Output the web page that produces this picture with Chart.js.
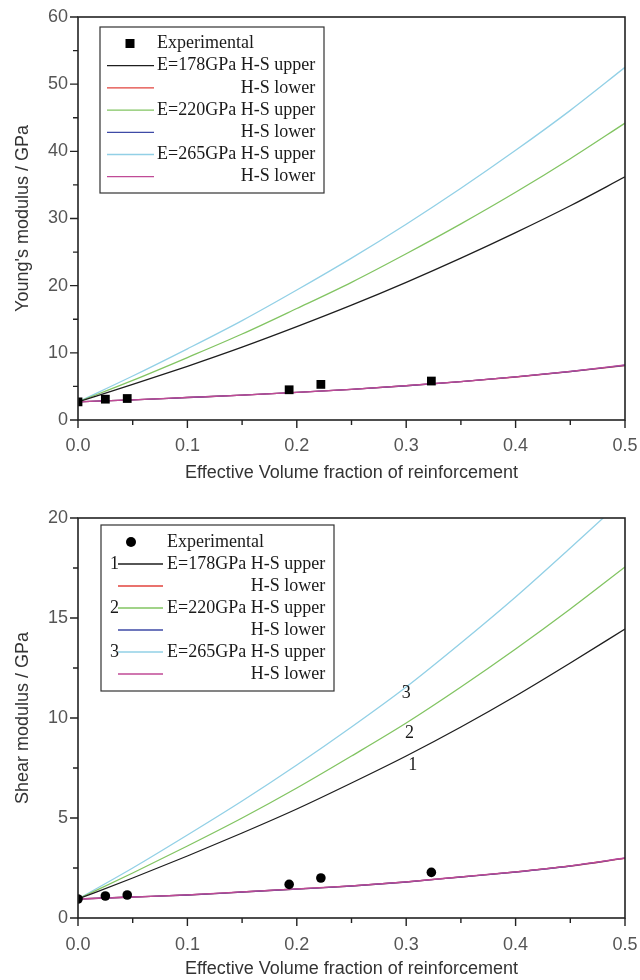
<!DOCTYPE html>
<html>
<head>
<meta charset="utf-8">
<script src="https://cdn.jsdelivr.net/npm/chart.js@4"></script>
<style>
    html, body { margin: 0; padding: 0; background: #fff; }
    #wrap { position: relative; width: 640px; height: 980px; }
    .panel { position: absolute; left: 0; width: 640px; height: 490px; }
</style>
</head>
<body>
<div id="wrap">
    <div class="panel" style="top:0"><canvas id="young" width="640" height="490"></canvas></div>
    <div class="panel" style="top:490px"><canvas id="shear" width="640" height="490"></canvas></div>
</div>
<script>
// ============================================
// Hashin-Shtrikman bounds vs. measured moduli
// ============================================

// effective volume fraction of reinforcement (bound curves)
var volFrac = [0, 0.05, 0.10, 0.15, 0.20, 0.25, 0.30, 0.35, 0.40, 0.45, 0.50];

// measured points
var expFrac = [0, 0.025, 0.045, 0.193, 0.222, 0.323];
var youngExp = [2.7, 3.1, 3.2, 4.5, 5.3, 5.8];
var shearExp = [0.95, 1.1, 1.15, 1.68, 2.0, 2.28];

// Young's modulus, GPa
var youngUpper178 = [2.7, 5.3, 8.0, 10.85, 13.9, 17.1, 20.5, 24.1, 27.9, 31.9, 36.2];
var youngUpper220 = [2.7, 5.9, 9.3, 12.8, 16.6, 20.5, 24.75, 29.2, 33.9, 38.9, 44.2];
var youngUpper265 = [2.7, 6.55, 10.6, 14.8, 19.35, 24.1, 29.15, 34.5, 40.15, 46.1, 52.5];
var youngLower178 = [2.7, 3.0, 3.35, 3.7, 4.1, 4.55, 5.1, 5.7, 6.4, 7.2, 8.1];
var youngLower220 = [2.7, 3.0, 3.35, 3.7, 4.1, 4.56, 5.1, 5.7, 6.42, 7.22, 8.15];
var youngLower265 = [2.7, 3.0, 3.36, 3.71, 4.11, 4.57, 5.12, 5.72, 6.43, 7.24, 8.2];

// shear modulus, GPa
var shearUpper178 = [0.95, 2.0, 3.1, 4.25, 5.45, 6.75, 8.1, 9.55, 11.1, 12.75, 14.45];
var shearUpper220 = [0.95, 2.25, 3.6, 5.0, 6.5, 8.1, 9.75, 11.55, 13.45, 15.45, 17.55];
var shearUpper265 = [0.95, 2.5, 4.15, 5.85, 7.65, 9.55, 11.55, 13.75, 16.05, 18.5, 21.0];
var shearLower178 = [0.95, 1.05, 1.15, 1.3, 1.45, 1.6, 1.8, 2.05, 2.3, 2.6, 2.98];
var shearLower220 = [0.95, 1.05, 1.15, 1.3, 1.45, 1.6, 1.8, 2.05, 2.3, 2.6, 2.99];
var shearLower265 = [0.95, 1.05, 1.16, 1.31, 1.46, 1.61, 1.81, 2.06, 2.31, 2.61, 3.0];

// axis ticks
var xTicks = [0, 0.1, 0.2, 0.3, 0.4, 0.5];
var youngTicks = [0, 10, 20, 30, 40, 50, 60];
var shearTicks = [0, 5, 10, 15, 20];

// curve tags on the shear panel
var tagText = ['1', '2', '3'];
var tagFrac = [0.306, 0.303, 0.300];
var tagShear = [7.65, 9.25, 11.25];

var COLORS = {
    c178: '#1e1e1e',
    l178: '#e2433c',
    c220: '#82c462',
    l220: '#3e4aa6',
    c265: '#92d0e6',
    l265: '#c04a96'
};

var SANS = '"Liberation Sans", Arial, sans-serif';
var SERIF = '"Liberation Serif", "Times New Roman", serif';

function pairs(xs, ys) {
    return xs.map(function (x, i) { return { x: x, y: ys[i] }; });
}

function curve(ys, color, order) {
    return {
        data: pairs(volFrac, ys),
        showLine: true,
        borderColor: color,
        borderWidth: 1.3,
        pointRadius: 0,
        cubicInterpolationMode: 'monotone',
        order: order
    };
}

// --------------------------------------------------
//  Frame, minor/major ticks, legend box, curve tags
// --------------------------------------------------
var decor = {
    id: 'decor',
    afterDraw: function (chart, args, o) {
        var ctx = chart.ctx;
        var a = chart.chartArea;
        var sx = chart.scales.x, sy = chart.scales.y;
        ctx.save();

        // frame
        ctx.strokeStyle = '#222';
        ctx.lineWidth = 1.6;
        ctx.strokeRect(a.left, a.top, a.right - a.left, a.bottom - a.top);

        // outward ticks on bottom and left
        ctx.lineWidth = 1.4;
        ctx.beginPath();
        function xTick(v, len) {
            var px = sx.getPixelForValue(v);
            ctx.moveTo(px, a.bottom);
            ctx.lineTo(px, a.bottom + len);
        }
        function yTick(v, len) {
            var py = sy.getPixelForValue(v);
            ctx.moveTo(a.left, py);
            ctx.lineTo(a.left - len, py);
        }
        xTicks.forEach(function (v, i) {
            xTick(v, 8);
            if (i < xTicks.length - 1) xTick((v + xTicks[i + 1]) / 2, 5);
        });
        o.yTicks.forEach(function (v, i) {
            yTick(v, 8);
            if (i < o.yTicks.length - 1) yTick((v + o.yTicks[i + 1]) / 2, 5);
        });
        ctx.stroke();

        // legend
        var L = o.legend;
        ctx.fillStyle = '#fff';
        ctx.fillRect(L.left, L.top, L.right - L.left, L.bottom - L.top);
        ctx.strokeStyle = '#333';
        ctx.lineWidth = 1.2;
        ctx.strokeRect(L.left, L.top, L.right - L.left, L.bottom - L.top);

        ctx.font = '18px ' + SERIF;
        ctx.textBaseline = 'middle';
        ctx.fillStyle = '#1a1a1a';
        var upperW = ctx.measureText(L.rows[1].text).width;

        L.rows.forEach(function (r, i) {
            var y = L.firstRow + i * L.step;
            if (r.marker) {
                ctx.fillStyle = '#000';
                ctx.beginPath();
                if (r.marker === 'rect') {
                    ctx.rect(L.markerX - 4.5, y - 4.5, 9, 9);
                } else {
                    ctx.arc(L.markerX, y, 5, 0, Math.PI * 2);
                }
                ctx.fill();
                ctx.fillStyle = '#1a1a1a';
                ctx.textAlign = 'left';
                ctx.fillText(r.text, L.textX, y);
                return;
            }
            ctx.strokeStyle = r.color;
            ctx.lineWidth = 1.3;
            ctx.beginPath();
            ctx.moveTo(L.lineX0, y);
            ctx.lineTo(L.lineX1, y);
            ctx.stroke();
            ctx.fillStyle = '#1a1a1a';
            if (r.num) {
                ctx.textAlign = 'right';
                ctx.fillText(r.num, L.lineX0 + 1, y);
            }
            if (r.right) {
                ctx.textAlign = 'right';
                ctx.fillText(r.text, L.textX + upperW, y);
            } else {
                ctx.textAlign = 'left';
                ctx.fillText(r.text, L.textX, y);
            }
        });

        // tags next to the upper-bound curves
        if (o.tags) {
            ctx.textAlign = 'center';
            ctx.fillStyle = '#1a1a1a';
            o.tags.text.forEach(function (t, i) {
                ctx.fillText(t, sx.getPixelForValue(o.tags.x[i]), sy.getPixelForValue(o.tags.y[i]));
            });
        }
        ctx.restore();
    }
};

function makeChart(id, cfg) {
    var ctx = document.getElementById(id).getContext('2d');
    return new Chart(ctx, {
        type: 'scatter',
        data: { datasets: cfg.datasets },
        options: {
            responsive: false,
            animation: false,
            layout: { padding: { top: cfg.padTop, right: 15, left: 0, bottom: 0 } },
            plugins: {
                legend: { display: false },
                tooltip: { enabled: false },
                decor: { yTicks: cfg.yTicks, legend: cfg.legend, tags: cfg.tags }
            },
            scales: {
                x: {
                    type: 'linear',
                    min: 0, max: 0.5,
                    afterFit: function (s) {
                        s.height = cfg.axisH;
                        s.paddingLeft = 0;
                        s.paddingRight = 0;
                    },
                    afterBuildTicks: function (s) {
                        s.ticks = xTicks.map(function (v) { return { value: v }; });
                    },
                    grid: { display: false, drawTicks: false },
                    border: { display: false },
                    ticks: {
                        color: '#555',
                        padding: cfg.tickPad,
                        maxRotation: 0,
                        font: { size: 18, family: SANS },
                        callback: function (v) { return v.toFixed(1); }
                    },
                    title: {
                        display: true,
                        text: 'Effective Volume fraction of reinforcement',
                        color: '#333',
                        font: { size: 18, family: SANS },
                        padding: { top: 0, bottom: cfg.titleBottom }
                    }
                },
                y: {
                    type: 'linear',
                    min: cfg.yTicks[0], max: cfg.yTicks[cfg.yTicks.length - 1],
                    afterFit: function (s) {
                        s.width = 78;
                        s.paddingTop = 0;
                        s.paddingBottom = 0;
                    },
                    afterBuildTicks: function (s) {
                        s.ticks = cfg.yTicks.map(function (v) { return { value: v }; });
                    },
                    grid: { display: false, drawTicks: false },
                    border: { display: false },
                    ticks: {
                        color: '#555',
                        padding: 10,
                        font: { size: 18, family: SANS }
                    },
                    title: {
                        display: true,
                        text: cfg.yTitle,
                        color: '#333',
                        font: { size: 18, family: SANS },
                        padding: { top: 12, bottom: 0 }
                    }
                }
            }
        },
        plugins: [decor]
    });
}

var youngSets = [
    { data: pairs(expFrac, youngExp), pointStyle: 'rect', pointRadius: 6.2,
      backgroundColor: '#000', borderColor: '#000', borderWidth: 0, order: 0 },
    curve(youngLower265, COLORS.l265, 1),
    curve(youngLower220, COLORS.l220, 2),
    curve(youngLower178, COLORS.l178, 3),
    curve(youngUpper178, COLORS.c178, 4),
    curve(youngUpper220, COLORS.c220, 4),
    curve(youngUpper265, COLORS.c265, 4)
];

var shearSets = [
    { data: pairs(expFrac, shearExp), pointStyle: 'circle', pointRadius: 4.8,
      backgroundColor: '#000', borderColor: '#000', borderWidth: 0, order: 0 },
    curve(shearLower265, COLORS.l265, 1),
    curve(shearLower220, COLORS.l220, 2),
    curve(shearLower178, COLORS.l178, 3),
    curve(shearUpper178, COLORS.c178, 4),
    curve(shearUpper220, COLORS.c220, 4),
    curve(shearUpper265, COLORS.c265, 4)
];

function legendRows(marker, numbered) {
    return [
        { marker: marker, text: 'Experimental' },
        { color: COLORS.c178, text: 'E=178GPa H-S upper', num: numbered ? '1' : '' },
        { color: COLORS.l178, text: 'H-S lower', right: true },
        { color: COLORS.c220, text: 'E=220GPa H-S upper', num: numbered ? '2' : '' },
        { color: COLORS.l220, text: 'H-S lower', right: true },
        { color: COLORS.c265, text: 'E=265GPa H-S upper', num: numbered ? '3' : '' },
        { color: COLORS.l265, text: 'H-S lower', right: true }
    ];
}

makeChart('young', {
    datasets: youngSets,
    yTicks: youngTicks,
    yTitle: "Young's modulus / GPa",
    padTop: 17,
    axisH: 70,
    tickPad: 15,
    titleBottom: 6,
    legend: {
        left: 100, top: 27, right: 324, bottom: 193,
        firstRow: 43.5, step: 22.2,
        markerX: 130, lineX0: 107, lineX1: 154, textX: 157,
        rows: legendRows('rect', false)
    }
});

makeChart('shear', {
    datasets: shearSets,
    yTicks: shearTicks,
    yTitle: 'Shear modulus / GPa',
    padTop: 28,
    axisH: 62,
    tickPad: 16,
    titleBottom: 0,
    legend: {
        left: 101, top: 35, right: 334, bottom: 201,
        firstRow: 52, step: 22,
        markerX: 131, lineX0: 118, lineX1: 163, textX: 167,
        rows: legendRows('circle', true)
    },
    tags: { text: tagText, x: tagFrac, y: tagShear }
});
</script>
</body>
</html>
